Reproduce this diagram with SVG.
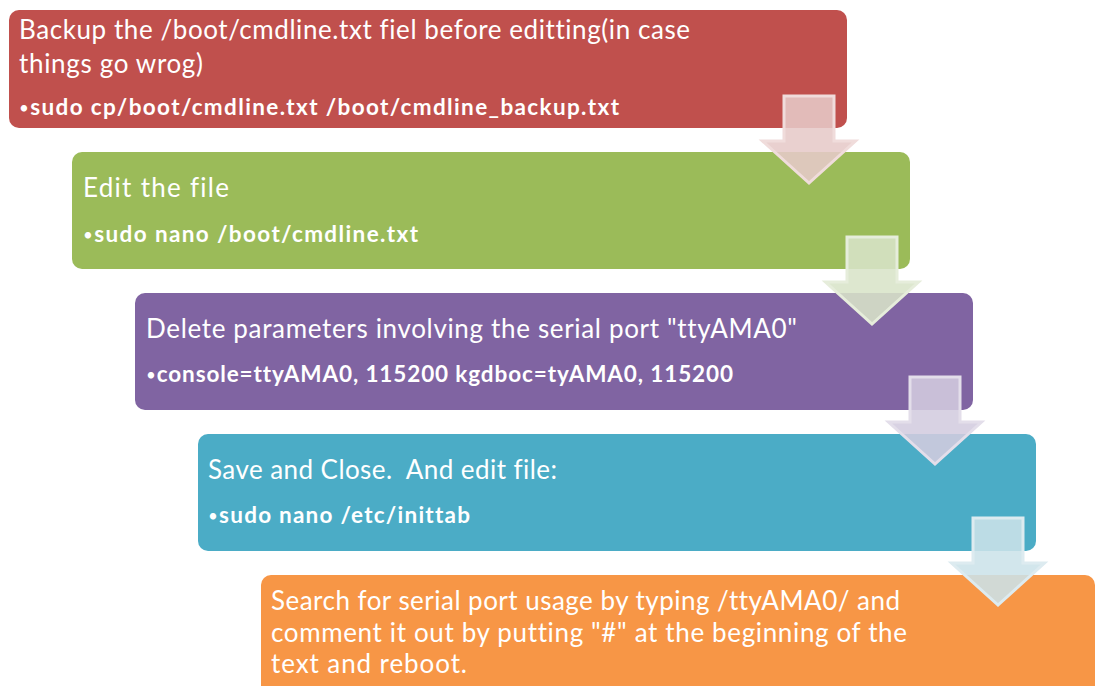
<svg xmlns="http://www.w3.org/2000/svg" width="1095" height="686" viewBox="0 0 1095 686">
<style>
.h{font-family:Lato,"Open Sans","Liberation Sans",sans-serif;font-size:26px;fill:#fff;font-variant-ligatures:none}
.b{font-family:Lato,"Open Sans","Liberation Sans",sans-serif;font-size:22.5px;font-weight:bold;fill:#fff;font-variant-ligatures:none}
.bu{font-size:17px;font-weight:normal}
.arr{stroke-width:3;stroke-linejoin:miter}
</style>
<defs>
<path id="arrow" d="M0,0 H50 V45 H71.5 L25,87 L-21.5,45 H0 Z"/>
</defs>
<rect width="1095" height="686" fill="#fff"/>
<g id="node1">
<rect x="9" y="10" width="838" height="118" rx="10" fill="#C0504D"/>
<text class="h" x="19" y="39" textLength="671" lengthAdjust="spacing">Backup the /boot/cmdline.txt fiel before editting(in case</text>
<text class="h" x="19" y="73" textLength="184" lengthAdjust="spacing">things go wrog)</text>
<text class="b" x="19" y="115" textLength="600" lengthAdjust="spacing"><tspan class="bu" dy="-1">•</tspan><tspan dy="1">sudo cp/boot/cmdline.txt /boot/cmdline_backup.txt</tspan></text>
</g>
<g id="node2">
<rect x="72" y="152" width="838" height="117" rx="10" fill="#9BBB59"/>
<text class="h" x="83" y="197" textLength="146" lengthAdjust="spacing">Edit the file</text>
<text class="b" x="83" y="242" textLength="335" lengthAdjust="spacing"><tspan class="bu" dy="-1">•</tspan><tspan dy="1">sudo nano /boot/cmdline.txt</tspan></text>
</g>
<g id="node3">
<rect x="135" y="293" width="838" height="117" rx="10" fill="#8064A2"/>
<text class="h" x="146" y="338" textLength="651" lengthAdjust="spacing">Delete parameters involving the serial port "ttyAMA0"</text>
<text class="b" x="146" y="382" textLength="587" lengthAdjust="spacing"><tspan class="bu" dy="-1">•</tspan><tspan dy="1">console=ttyAMA0, 115200 kgdboc=tyAMA0, 115200</tspan></text>
</g>
<g id="node4">
<rect x="198" y="434" width="838" height="117" rx="10" fill="#4BACC6"/>
<text class="h" x="208" y="479" textLength="349" lengthAdjust="spacing" xml:space="preserve">Save and Close.  And edit file:</text>
<text class="b" x="208" y="523" textLength="262" lengthAdjust="spacing"><tspan class="bu" dy="-1">•</tspan><tspan dy="1">sudo nano /etc/inittab</tspan></text>
</g>
<g id="node5">
<rect x="261" y="575" width="834" height="130" rx="10" fill="#F79646"/>
<text class="h" x="271" y="610" textLength="629" lengthAdjust="spacing">Search for serial port usage by typing /ttyAMA0/ and</text>
<text class="h" x="271" y="642" textLength="636" lengthAdjust="spacing">comment it out by putting "#" at the beginning of the</text>
<text class="h" x="271" y="673" textLength="196" lengthAdjust="spacing">text and reboot.</text>
</g>
<g id="connectors">
<use href="#arrow" x="784" y="96" class="arr" fill="#E6C9C8" fill-opacity="0.88" stroke="#F0DCDB"/>
<use href="#arrow" x="847" y="237" class="arr" fill="#D8E4C8" fill-opacity="0.88" stroke="#E6EDDB"/>
<use href="#arrow" x="910" y="377" class="arr" fill="#D3CCDF" fill-opacity="0.88" stroke="#E3DEEA"/>
<use href="#arrow" x="973" y="518" class="arr" fill="#CCE2E9" fill-opacity="0.88" stroke="#DDEBF0"/>
</g>
</svg>
